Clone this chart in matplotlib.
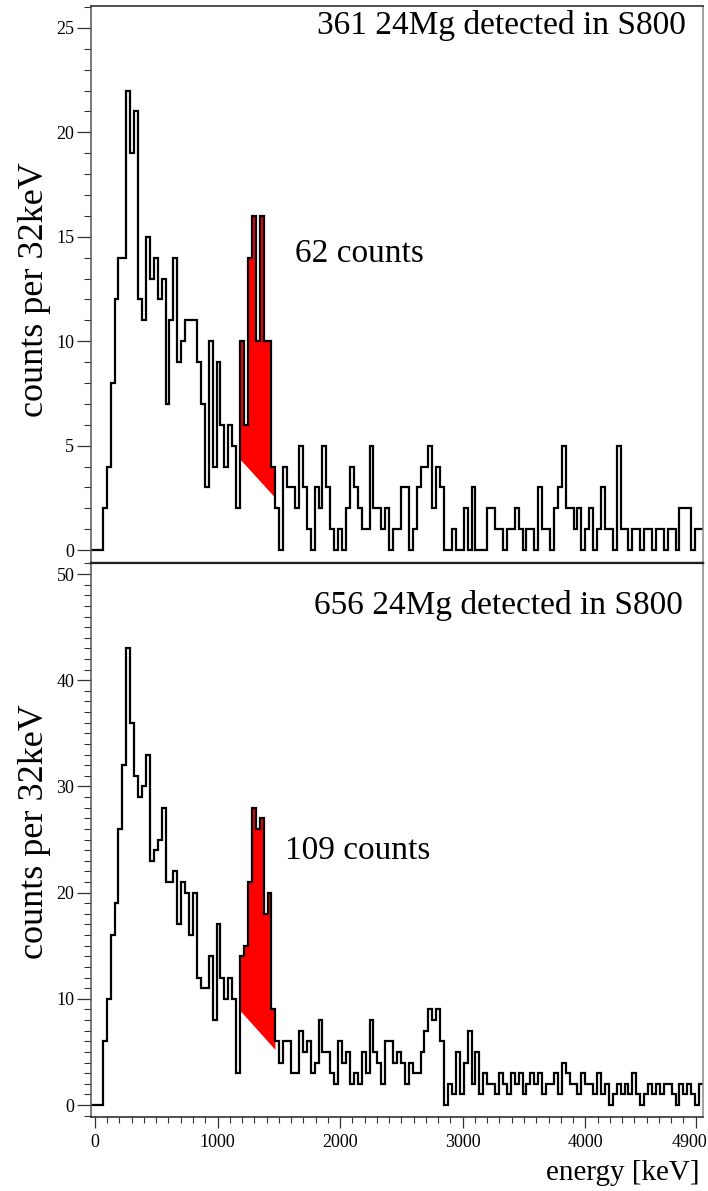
import numpy as np
import matplotlib
matplotlib.use("Agg")
import matplotlib.pyplot as plt
import matplotlib.transforms as mtransforms
from matplotlib.ticker import MultipleLocator, FixedLocator

# ---------------- data ----------------
bin_width = 32
edges = np.arange(-32, 4960 + 1, bin_width)          # 156 bins, -32 .. 4960 keV

top_counts = [
    0, 0, 0,
    2, 4, 8, 12, 14, 14,
    22, 19, 21, 12, 11, 15, 13, 14, 12, 13, 7, 11, 14, 9, 10, 11, 11, 11, 9, 7, 3,
    10, 4, 9, 6, 4, 6, 5, 2,
    10, 6, 14, 16, 10, 16, 10, 10, 4,
    2, 0, 4, 3, 3, 2, 5, 3, 1, 0,
    3, 2, 5, 3, 1, 0, 1, 0, 2, 4,
    3, 2, 1, 1, 5, 2, 2, 1, 2, 0,
    1, 1, 3, 3, 0, 1, 3, 4, 4, 5,
    2, 4, 3, 0, 0, 1, 0, 0, 2, 0,
    3, 0, 0, 0, 2,
    2, 1, 1, 0, 1, 1, 2, 1, 0, 1,
    1, 0, 3, 1, 1, 0, 2, 3, 5, 2,
    2, 1, 2, 0, 1, 2, 0, 1, 3, 1,
    1, 0, 5, 1, 1, 0, 1, 1, 0, 1,
    1, 0, 1, 1, 0, 1, 1, 0, 2, 2,
    2, 0, 1, 1,
]

bottom_counts = [
    0, 0, 0,
    6, 10, 16, 19, 26, 32,
    43, 36, 31, 29, 30, 33, 23, 24, 25, 28, 21, 21, 22, 17, 21, 20, 16, 20, 12, 11,
    11, 14, 8, 17, 12, 10, 12, 10, 3,
    14, 15, 21, 28, 26, 27, 18, 20, 9,
    6, 4, 6, 6, 3, 3, 7,
    5, 6, 3, 4, 8, 5, 5, 3, 2, 6,
    4, 5, 2, 3, 2, 5, 3, 8, 5, 4,
    2, 6, 6, 4, 5, 4, 2, 4, 3, 3,
    5, 7, 9, 8, 9, 6, 0, 2, 1, 5,
    1, 4, 7, 2, 5, 1, 3, 2,
    2, 1, 3, 2, 1, 3, 2, 3, 1, 2,
    3, 2, 3, 1, 2, 2, 3, 1, 4, 3,
    2, 2, 1, 3, 2, 2, 1, 3, 1, 2,
    0, 1, 2, 1, 2, 1, 3, 1, 0, 1,
    2, 1, 2, 1, 2, 2, 1, 0, 2, 1,
    2, 1, 0, 2,
]

assert len(top_counts) == len(edges) - 1
assert len(bottom_counts) == len(edges) - 1

# peak window (keV) and linear background at its ends (counts)
red_window = (1184, 1472)
top_background = (4.35, 2.5)
bottom_background = (8.9, 5.2)

top_title = "361 24Mg detected in S800"
bottom_title = "656 24Mg detected in S800"
top_peak_label = "62 counts"
bottom_peak_label = "109 counts"
ylabel_text = "counts per 32keV"
xlabel_text = "energy [keV]"

x_tick_values = [0, 1000, 2000, 3000, 4000, 4900]

# ---------------- figure ----------------
W, H = 708, 1191
plt.rcParams["font.family"] = ["Liberation Serif", "DejaVu Serif"]
fig = plt.figure(figsize=(W / 100, H / 100), dpi=100)


def fx(x):
    return x / W


def fy(y):
    return 1 - y / H


left_px, right_px = 91, 703
mid_px, bot_px = 563, 1117
ax_top = fig.add_axes([fx(left_px), fy(mid_px), (right_px - left_px) / W, (mid_px - 6) / H])
ax_bot = fig.add_axes([fx(left_px), fy(bot_px), (right_px - left_px) / W, (bot_px - mid_px) / H])


def draw_panel(ax, counts, background, ylim, ymajor):
    counts = np.asarray(counts)
    lo, hi = red_window
    # polygon between histogram top and linear background inside the window
    xs, ys = [], []
    for i in range(len(counts)):
        a, b = edges[i], edges[i + 1]
        if a >= lo and b <= hi:
            xs += [a, b]
            ys += [counts[i], counts[i]]
    xs += [hi, lo]
    ys += [background[1], background[0]]
    ax.fill(xs, ys, color="#ff0000", lw=0, zorder=1)
    ax.stairs(counts, edges, baseline=None, color="black", lw=1.6, zorder=2)
    ax.set_xlim(edges[0], edges[-1])
    ax.set_ylim(*ylim)
    ax.yaxis.set_major_locator(MultipleLocator(ymajor))
    ax.yaxis.set_minor_locator(MultipleLocator(1))
    ax.tick_params(axis="y", which="major", direction="out", length=10, width=0.9,
                   labelsize=13, pad=2, colors="#333333", labelcolor="black")
    ax.tick_params(axis="y", which="minor", direction="out", length=5, width=0.8,
                   colors="#333333")
    ax.tick_params(axis="y", right=False)
    for s in ax.spines.values():
        s.set_linewidth(1.1)
        s.set_color("#222222")
    ax.spines["left"].set_color("#555555")
    ax.spines["right"].set_color("#888888")


draw_panel(ax_top, top_counts, top_background, (-0.62, 26.05), 5)
draw_panel(ax_bot, bottom_counts, bottom_background, (-1.13, 51.04), 10)
ax_top.spines["bottom"].set_linewidth(1.6)
ax_bot.spines["top"].set_linewidth(1.6)

ax_top.tick_params(axis="x", which="both", bottom=False, labelbottom=False)
ax_bot.xaxis.set_major_locator(FixedLocator(x_tick_values))
ax_bot.set_xticklabels([str(v) for v in x_tick_values])
ax_bot.xaxis.set_minor_locator(MultipleLocator(100))
ax_bot.tick_params(axis="x", which="major", direction="out", length=8, width=0.9,
                   labelsize=13, pad=4, colors="#333333", labelcolor="black")
ax_bot.tick_params(axis="x", which="minor", direction="out", length=4, width=0.8,
                   colors="#333333")

# keep the last tick label ("4900") inside the picture
last_label = ax_bot.get_xticklabels()[-1]
last_label.set_transform(last_label.get_transform() +
                         mtransforms.ScaledTranslation(-6 / 100, 0, fig.dpi_scale_trans))

# ---------------- texts ----------------
title_size = 24
fig.text(fx(686), fy(34), top_title, ha="right", va="baseline", fontsize=title_size)
fig.text(fx(295), fy(262), top_peak_label, ha="left", va="baseline", fontsize=title_size)
fig.text(fx(683), fy(614), bottom_title, ha="right", va="baseline", fontsize=title_size)
fig.text(fx(285), fy(859), bottom_peak_label, ha="left", va="baseline", fontsize=title_size)

fig.text(fx(35), fy(290), ylabel_text, rotation=90, ha="center", va="center", fontsize=26)
fig.text(fx(35), fy(832), ylabel_text, rotation=90, ha="center", va="center", fontsize=26)
fig.text(fx(700), fy(1173), xlabel_text, ha="right", va="center", fontsize=21)

fig.savefig("out.png", dpi=100)
